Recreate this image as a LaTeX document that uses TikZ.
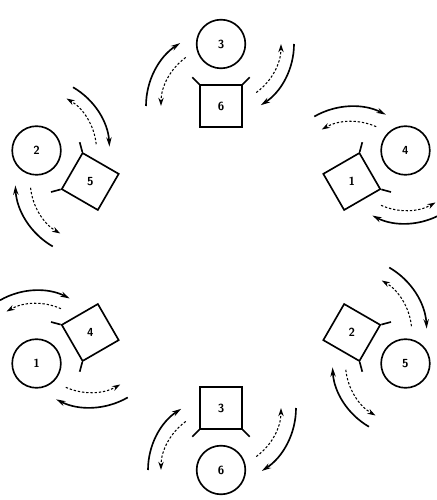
\documentclass[tikz,border=0pt]{standalone}
\usepackage{tikz}
\usetikzlibrary{arrows.meta}

\begin{document}
\begin{tikzpicture}[x=0.3mm,y=0.3mm,
  ring/.style={circle,draw,line width=1.4pt,minimum size=14.6mm,inner sep=0pt},
  sqbox/.style={rectangle,draw,line width=1.4pt,minimum size=12.5mm,inner sep=0pt},
  num/.style={font=\sffamily\bfseries},
  spin/.style={line width=1.4pt,-{Stealth[length=8pt,width=4.5pt]}},
  backspin/.style={line width=0.9pt,dash pattern=on 2pt off 1.6pt,-{Stealth[length=7pt,width=4.5pt]}}]
  \useasboundingbox (-221,-243) rectangle (215,257);
  % six circle/square pairs, one every 60 degrees
  \foreach \a/\c/\s in {90/3/6,30/4/1,-30/5/2,-90/6/3,-150/1/4,150/2/5}{
    \node[ring,num] (c\c) at (\a:213) {\c};
    \node[sqbox,rotate=\a-90] (s\s) at (\a:151) {};
    \node[num] (t\s) at (s\s.center) {\s};
    % legs on the corners facing the circle
    \draw[line width=1.4pt] (s\s.north west) -- ++(\a+45:10);
    \draw[line width=1.4pt] (s\s.north east) -- ++(\a-45:10);
    % arrows round the square
    \draw[spin] ([shift={(\a+90:75)}]s\s.center) arc[start angle=\a+90,end angle=\a+33,radius=75];
    \draw[backspin] ([shift={(\a+36:60)}]s\s.center) arc[start angle=\a+36,end angle=\a+90,radius=60];
    % arrows round the circle
    \draw[spin] ([shift={(\a-90:73)}]c\c.center) arc[start angle=\a-90,end angle=\a-147,radius=73];
    \draw[backspin] ([shift={(\a-144:60)}]c\c.center) arc[start angle=\a-144,end angle=\a-90,radius=60];
  }
\end{tikzpicture}
\end{document}
